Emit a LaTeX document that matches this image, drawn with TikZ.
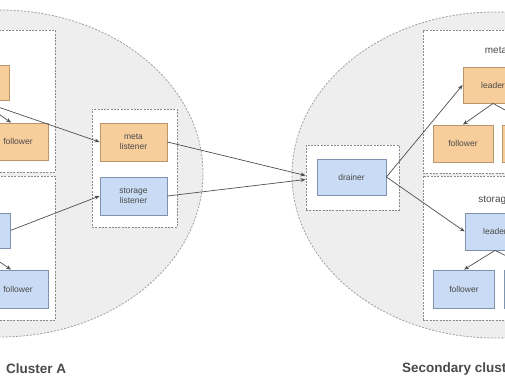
\documentclass[tikz,border=0pt]{standalone}
\usepackage{fontspec}
\setmainfont{Liberation Sans}
\usetikzlibrary{shapes.geometric,arrows.meta,calc}
\definecolor{clfill}{HTML}{EEEEEE}
\definecolor{cledge}{HTML}{A0A0A0}
\definecolor{grpedge}{HTML}{8A8A8A}
\definecolor{ofill}{HTML}{F8CD9C}
\definecolor{oedge}{HTML}{B9976B}
\definecolor{bfill}{HTML}{CADCF5}
\definecolor{bedge}{HTML}{7E94AE}
\definecolor{txt}{HTML}{4A4A4A}
\definecolor{arr}{HTML}{505050}
\begin{document}
\begin{tikzpicture}[x=1pt,y=-1pt,
 cluster/.style={ellipse, fill=clfill, draw=cledge, line width=0.8pt, dash pattern=on 2pt off 1.5pt, inner sep=0pt},
 group/.style={rectangle, fill=white, draw=grpedge, line width=0.9pt, dash pattern=on 2pt off 1.3pt, inner sep=0pt},
 metanode/.style={rectangle, fill=ofill, draw=oedge, line width=0.8pt, inner sep=0pt, align=center, font=\fontsize{8.5}{9.5}\selectfont, text=txt},
 stornode/.style={rectangle, fill=bfill, draw=bedge, line width=0.8pt, inner sep=0pt, align=center, font=\fontsize{8.5}{9.5}\selectfont, text=txt},
 conn/.style={draw=arr, line width=0.7pt, -{Stealth[length=5pt,width=4pt]}},
 grplabel/.style={font=\fontsize{10}{12}\selectfont, text=txt, inner sep=0pt},
 title/.style={font=\fontsize{13.5}{16}\selectfont\bfseries, text=txt, anchor=west, inner sep=0pt}]

\useasboundingbox (0,0) rectangle (505,378);
\clip (0,0) rectangle (505,378);
\fill[white] (0,0) rectangle (505,378);

% clusters
\node[cluster, minimum width=406pt, minimum height=327pt] (clA) at (0,173.5) {};
\node[cluster, minimum width=406pt, minimum height=326pt] (clB) at (495,175) {};

% groups
\node[group, minimum width=144pt, minimum height=142pt] (lmg) at (-17,101) {};
\node[group, minimum width=144pt, minimum height=144pt] (lsg) at (-17,248) {};
\node[group, minimum width=144pt, minimum height=143pt] (rmg) at (495,101.5) {};
\node[group, minimum width=144pt, minimum height=144pt] (rsg) at (495,248) {};
\node[group, minimum width=85pt, minimum height=118pt] (lisg) at (134.5,168) {};
\node[group, minimum width=93pt, minimum height=65pt] (drg) at (352.5,177.5) {};

\node[grplabel] (rmlab) at (496,50) {meta};
\node[grplabel] (rslab) at (495,200) {storage};

% left cluster nodes
\node[metanode, minimum width=60pt, minimum height=35pt] (lml) at (-21,82.5) {leader};
\node[metanode, minimum width=60pt, minimum height=37pt] (lmf) at (18,141.5) {follower};
\node[stornode, minimum width=60pt, minimum height=35pt] (lsl) at (-20,230.5) {leader};
\node[stornode, minimum width=60pt, minimum height=38pt] (lsf) at (18,289) {follower};

% listeners
\node[metanode, minimum width=67pt, minimum height=38pt] (ml) at (133.5,142) {meta\\listener};
\node[stornode, minimum width=67pt, minimum height=38pt] (sl) at (133.5,196) {storage\\listener};

% drainer
\node[stornode, minimum width=69pt, minimum height=36pt] (dr) at (351.5,177) {drainer};

% right cluster nodes
\node[metanode, minimum width=60pt, minimum height=36pt] (rml) at (493,85) {leader};
\node[metanode, minimum width=60pt, minimum height=37pt] (rmf1) at (463,143.5) {follower};
\node[metanode, minimum width=60pt, minimum height=37pt] (rmf2) at (532,143.5) {follower};
\node[stornode, minimum width=60pt, minimum height=37pt] (rsl) at (495,231.5) {leader};
\node[stornode, minimum width=61pt, minimum height=38pt] (rsf1) at (464,289) {follower};
\node[stornode, minimum width=60pt, minimum height=38pt] (rsf2) at (534,289) {follower};

% connectors
\draw[conn] (lml.south) -- (lmf.110);
\draw[conn] (lml.south) -- (ml.west);
\draw[conn] (lsl.south) -- (lsf.110);
\draw[conn] (lsl.east) -- (sl.west);
\draw[conn] (ml.east) -- ($(drg.west)+(0,-2)$);
\draw[conn] (sl.east) -- ($(drg.west)+(0,2)$);
\draw[conn] (dr.east) -- (rml.west);
\draw[conn] (dr.east) -- (rsl.west);
\draw[conn] (rml.south) -- (rmf1.north);
\draw[conn] (rml.south) -- (rmf2.north);
\draw[conn] (rsl.south) -- (rsf1.north);
\draw[conn] (rsl.south) -- (rsf2.north);

% titles
\node[title] (tA) at (6,369) {Cluster A};
\node[title] (tB) at (402,369) {Secondary cluster};
\end{tikzpicture}
\end{document}
